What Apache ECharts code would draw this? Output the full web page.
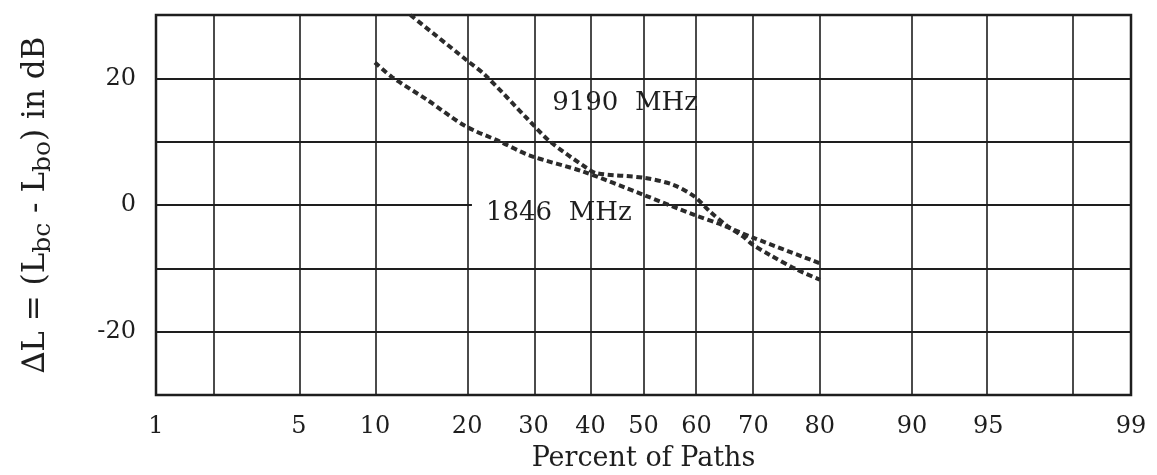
<!DOCTYPE html>
<html>
<head>
<meta charset="utf-8">
<title>Percent of Paths</title>
<script src="https://cdn.jsdelivr.net/npm/echarts@6/dist/echarts.min.js"></script>
<style>
html, body {
  margin: 0;
  padding: 0;
  background: #fff;
}
#chart {
  width: 1157px;
  height: 475px;
}
</style>
</head>
<body>
<div id="chart"></div>
<script>
var pct9190 = [13.3, 20, 22.5, 29.1, 32.8, 39.4, 41.2, 50, 55.6, 59.5, 62.4, 65.5, 68.3, 69.8, 72.7, 76.8, 80]
var db9190 = [30, 22.8, 20.5, 13.5, 10, 5.8, 5.0, 4.3, 3.2, 1.4, -1.0, -3.3, -5.0, -6.2, -7.9, -10.2, -11.8]

var pct1846 = [10, 11.5, 15.1, 19.7, 24.7, 29.4, 38.6, 50, 59.7, 64.2, 69.8, 80]
var db1846 = [22.5, 20.2, 16.6, 12.5, 10, 7.8, 5.3, 1.6, -1.6, -3.0, -5.1, -9.2]

var tickPct = [1, 5, 10, 20, 30, 40, 50, 60, 70, 80, 90, 95, 99]
var gridPct = [2, 5, 10, 20, 30, 40, 50, 60, 70, 80, 90, 95, 98]

var noteNames = ['9190  MHz', '1846  MHz']
var notePct = [46.5, 34.3]
var noteDb = [16.1, -1.3]

var FONT = 'DejaVu Serif'
var INK = '#1e1e1e'

// normal probability paper: percent -> standard normal quantile (Acklam)
function probit (pc) {
  var p = pc / 100
  var a = [-3.969683028665376e+01, 2.209460984245205e+02, -2.759285104469687e+02, 1.383577518672690e+02, -3.066479806614716e+01, 2.506628277459239e+00]
  var b = [-5.447609879822406e+01, 1.615858368580409e+02, -1.556989798598866e+02, 6.680131188771972e+01, -1.328068155288572e+01]
  var c = [-7.784894002430293e-03, -3.223964580411365e-01, -2.400758277161838e+00, -2.549732539343734e+00, 4.374664141464968e+00, 2.938163982698783e+00]
  var d = [7.784695709041462e-03, 3.224671290700398e-01, 2.445134137142996e+00, 3.754408661907416e+00]
  var pl = 0.02425
  var q, r
  if (p < pl) {
    q = Math.sqrt(-2 * Math.log(p))
    return (((((c[0] * q + c[1]) * q + c[2]) * q + c[3]) * q + c[4]) * q + c[5]) /
      ((((d[0] * q + d[1]) * q + d[2]) * q + d[3]) * q + 1)
  }
  if (p > 1 - pl) {
    q = Math.sqrt(-2 * Math.log(1 - p))
    return -(((((c[0] * q + c[1]) * q + c[2]) * q + c[3]) * q + c[4]) * q + c[5]) /
      ((((d[0] * q + d[1]) * q + d[2]) * q + d[3]) * q + 1)
  }
  q = p - 0.5
  r = q * q
  return (((((a[0] * r + a[1]) * r + a[2]) * r + a[3]) * r + a[4]) * r + a[5]) * q /
    (((((b[0] * r + b[1]) * r + b[2]) * r + b[3]) * r + b[4]) * r + 1)
}

function toPoints (pcts, dbs) {
  return pcts.map(function (p, i) { return [probit(p), dbs[i]] })
}

var tickValues = tickPct.map(probit)

var myChart = echarts.init(document.getElementById('chart'))
var option = {
  backgroundColor: '#fff',
  animation: false,
  textStyle: { fontFamily: FONT, color: INK },
  grid: {
    left: 156,
    right: 26,
    top: 15,
    bottom: 80,
    outerBoundsMode: 'none',
    containLabel: false,
    show: true,
    borderColor: INK,
    borderWidth: 2.5,
    backgroundColor: 'transparent'
  },
  xAxis: {
    type: 'value',
    min: probit(1),
    max: probit(99),
    name: 'Percent of Paths',
    nameLocation: 'middle',
    nameGap: 50,
    nameTextStyle: { fontFamily: FONT, fontSize: 27, color: INK },
    axisLine: { show: false },
    axisTick: { show: false },
    splitLine: { show: false },
    axisLabel: {
      customValues: tickValues,
      showMinLabel: true,
      showMaxLabel: true,
      margin: 20,
      fontFamily: FONT,
      fontSize: 24,
      color: INK,
      formatter: function (v) {
        for (var i = 0; i < tickValues.length; i++) {
          if (Math.abs(tickValues[i] - v) < 1e-6) return String(tickPct[i])
        }
        return ''
      }
    }
  },
  yAxis: {
    type: 'value',
    min: -30,
    max: 30,
    interval: 10,
    name: '{a|∆L = (L}{s|bc}{a| - L}{s|bo}{a|) in dB}',
    nameLocation: 'middle',
    nameRotate: 90,
    nameGap: 100,
    nameTextStyle: {
      rich: {
        a: { fontFamily: FONT, fontSize: 31, color: INK, lineHeight: 40 },
        s: { fontFamily: FONT, fontSize: 25, color: INK, lineHeight: 19, verticalAlign: 'bottom' }
      }
    },
    axisLine: { show: false },
    axisTick: { show: false },
    axisLabel: {
      margin: 20,
      fontFamily: FONT,
      fontSize: 24,
      color: INK,
      formatter: function (v) {
        return (v % 20 === 0 && Math.abs(v) < 30) ? String(v) : ''
      }
    },
    splitLine: { lineStyle: { color: INK, width: 2 } }
  },
  series: [
    {
      name: 'grid',
      type: 'line',
      data: [],
      z: 1,
      silent: true,
      markLine: {
        silent: true,
        symbol: 'none',
        label: { show: false },
        lineStyle: { color: INK, width: 1.6, type: 'solid' },
        data: gridPct.map(function (p) { return { xAxis: probit(p) } })
      }
    },
    {
      name: 'notes',
      type: 'scatter',
      z: 3,
      silent: true,
      symbolSize: 1,
      itemStyle: { color: 'rgba(0,0,0,0)', opacity: 1 },
      label: {
        show: true,
        position: 'inside',
        formatter: function (pr) { return pr.name },
        fontFamily: FONT,
        fontSize: 26,
        color: INK,
        opacity: 1,
        backgroundColor: '#fff',
        padding: [5, 14, 9, 14]
      },
      data: noteNames.map(function (n, i) {
        return { name: n, value: [probit(notePct[i]), noteDb[i]] }
      })
    },
    {
      name: '9190 MHz',
      type: 'line',
      z: 5,
      smooth: 0.3,
      symbol: 'none',
      lineStyle: { color: '#2b2b2b', width: 4, type: [6, 3.5], cap: 'butt' },
      data: toPoints(pct9190, db9190)
    },
    {
      name: '1846 MHz',
      type: 'line',
      z: 5,
      smooth: 0.3,
      symbol: 'none',
      lineStyle: { color: '#2b2b2b', width: 4, type: [6, 3.5], cap: 'butt' },
      data: toPoints(pct1846, db1846)
    }
  ]
}
myChart.setOption(option)
</script>
</body>
</html>
